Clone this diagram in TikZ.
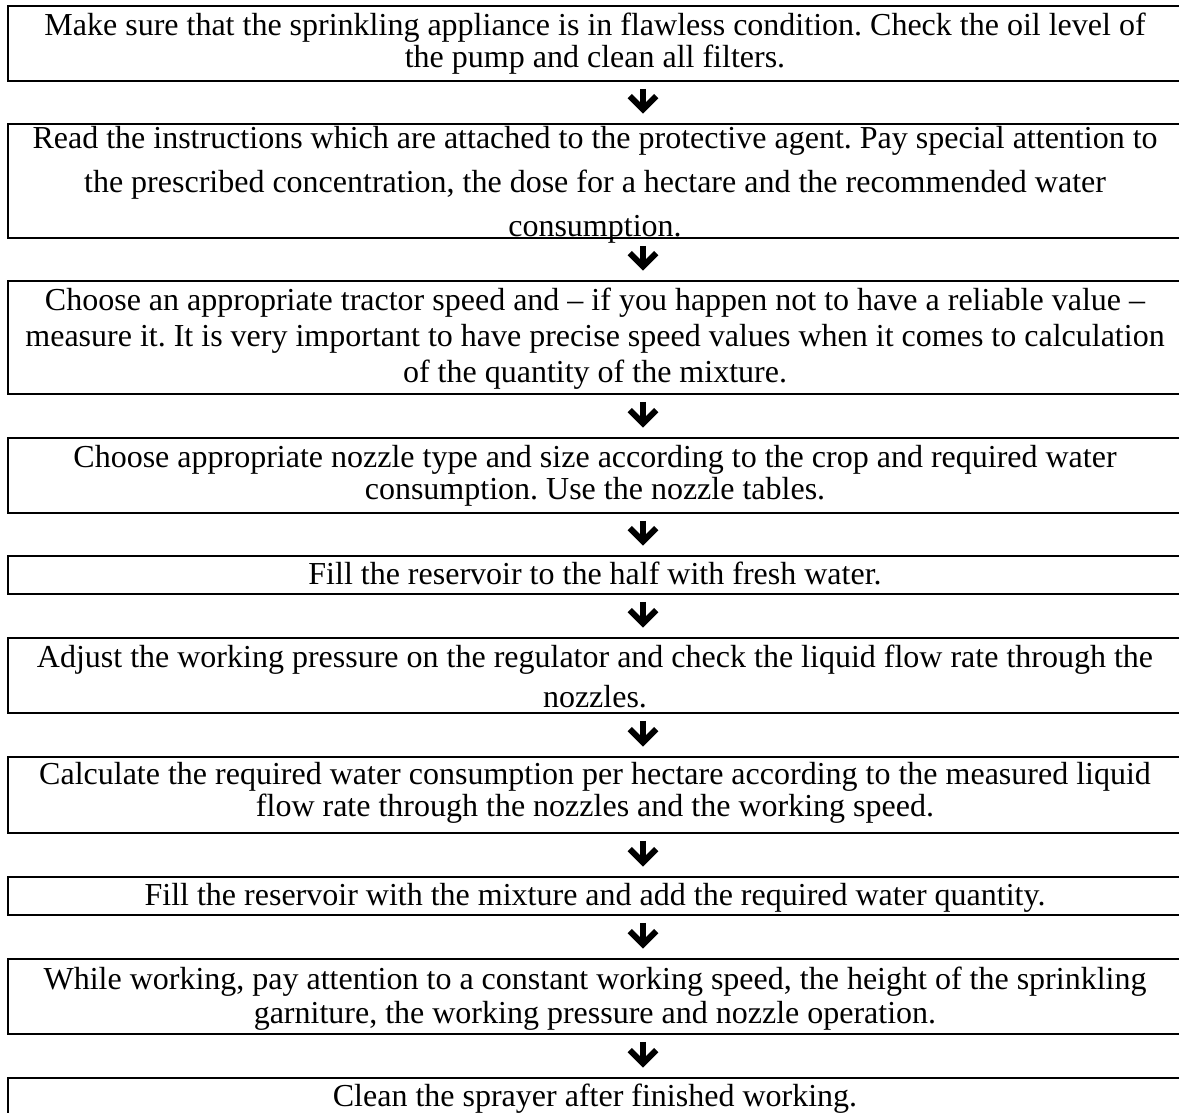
\documentclass[tikz,border=0pt]{standalone}
\usepackage{fontspec}
\setmainfont{Liberation Serif}
\usetikzlibrary{arrows.meta}
\frenchspacing

\begin{document}
\begin{tikzpicture}[x=0.75pt, y=-0.75pt,
      % #1 box height, #2 last baseline below top, #3 line skip
      stepbox/.style n args={3}{draw, line width=1.2pt, anchor=north,
                      minimum width=880.5pt, minimum height=#1,
                      inner sep=0pt, align=center,
                      text height=#2, text depth={#1-#2},
                      font={\fontsize{24}{#3}\selectfont}},
      flow/.style={line width=4.5pt,
                   -{Straight Barb[length=10pt, width=20pt, line join=miter]},
                   shorten <=5.5pt, shorten >=7pt}]
    \useasboundingbox (0,0) rectangle (1179,1113);
    \clip (0,0) rectangle (1179,1113);
    % steps
    \node[stepbox={56.25pt}{46.5pt}{24pt}] (s1) at (595,5)
      {Make sure that the sprinkling appliance is in flawless condition. Check the oil level of\\
       the pump and clean all filters.};
    \node[stepbox={85.5pt}{84.75pt}{33pt}] (s2) at (595,123)
      {Read the instructions which are attached to the protective agent. Pay special attention to\\
       the prescribed concentration, the dose for a hectare and the recommended water\\
       consumption.};
    \node[stepbox={84.75pt}{76.5pt}{27pt}] (s3) at (595,280)
      {Choose an appropriate tractor speed and -- if you happen not to have a reliable value --\\
       measure it. It is very important to have precise speed values when it comes to calculation\\
       of the quantity of the mixture.};
    \node[stepbox={56.25pt}{46.5pt}{24pt}] (s4) at (595,437)
      {Choose appropriate nozzle type and size according to the crop and required water\\
       consumption. Use the nozzle tables.};
    \node[stepbox={28.5pt}{21.75pt}{24pt}] (s5) at (595,555)
      {Fill the reservoir to the half with fresh water.};
    \node[stepbox={56.25pt}{52.5pt}{30pt}] (s6) at (595,637)
      {Adjust the working pressure on the regulator and check the liquid flow rate through the\\
       nozzles.};
    \node[stepbox={57pt}{45pt}{24pt}] (s7) at (595,756)
      {Calculate the required water consumption per hectare according to the measured liquid\\
       flow rate through the nozzles and the working speed.};
    \node[stepbox={28.5pt}{21.75pt}{24pt}] (s8) at (595,876)
      {Fill the reservoir with the mixture and add the required water quantity.};
    \node[stepbox={56.25pt}{48.25pt}{25pt}] (s9) at (595,958)
      {While working, pay attention to a constant working speed, the height of the sprinkling\\
       garniture, the working pressure and nozzle operation.};
    \node[stepbox={28.5pt}{21.75pt}{24pt}] (s10) at (595,1077)
      {Clean the sprayer after finished working.};
    % arrows
    \coordinate (ax) at (643,0);
    \foreach \a/\b in {s1/s2, s2/s3, s3/s4, s4/s5, s5/s6, s6/s7, s7/s8, s8/s9, s9/s10}
      \draw[flow] (\a.south -| ax) -- (\b.north -| ax);
\end{tikzpicture}
\end{document}
